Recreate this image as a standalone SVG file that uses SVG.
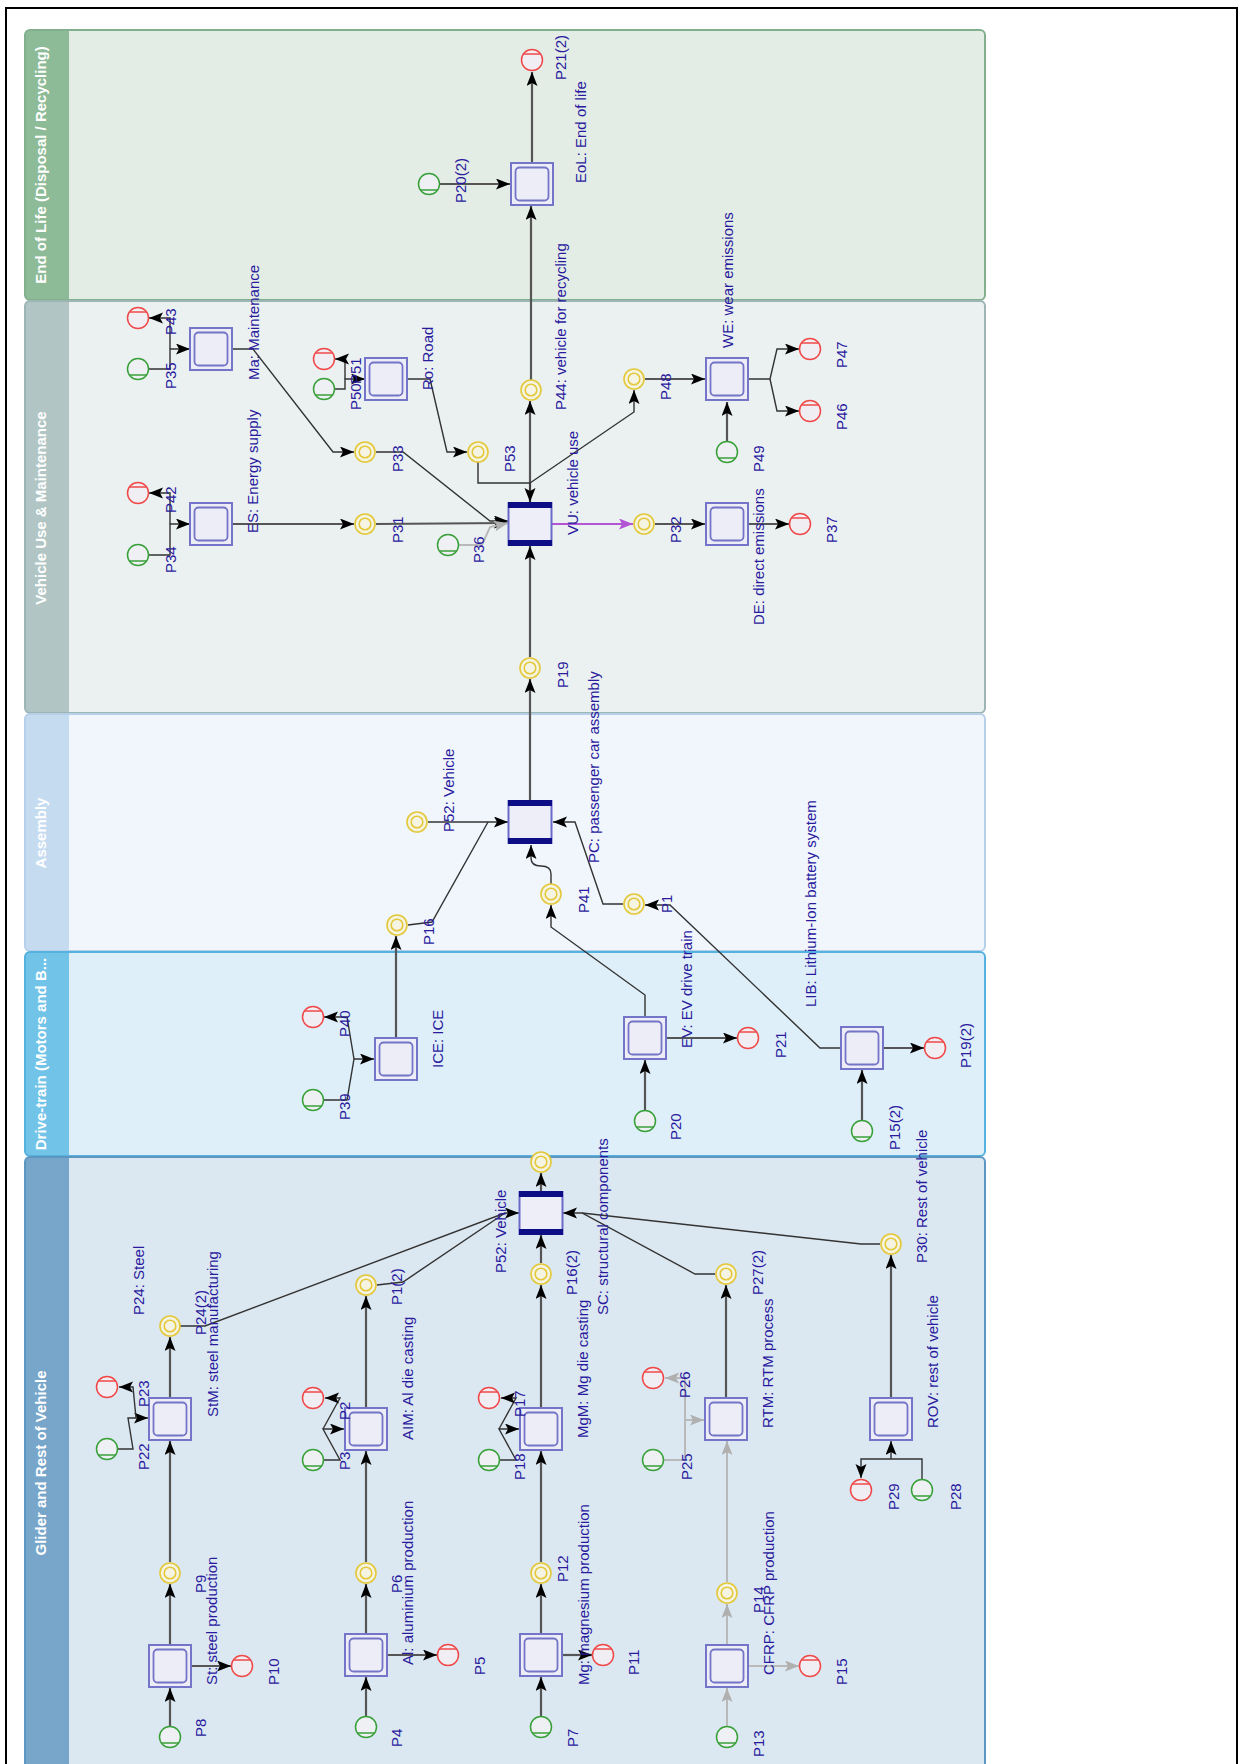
<svg xmlns="http://www.w3.org/2000/svg" width="1242" height="1764" viewBox="0 0 1242 1764">
<style>
.t{font-family:"Liberation Sans",Arial,sans-serif;font-size:15px;fill:#2a1a9e}
.h{font-family:"Liberation Sans",Arial,sans-serif;font-size:15px;font-weight:bold;fill:#ffffff;text-anchor:middle}
.e{fill:none;stroke:#555555;stroke-width:2.2}
.d{fill:none;stroke:#333333;stroke-width:1.4}
.g{fill:none;stroke:#b9b9b9;stroke-width:2}
.m{fill:none;stroke:#b254d4;stroke-width:2}
.ar{marker-end:url(#a)}
.ag{marker-end:url(#ag)}
.am{marker-end:url(#am)}
</style>
<defs>
<marker id="a" markerUnits="userSpaceOnUse" markerWidth="15" markerHeight="12" refX="14" refY="5.5" orient="auto"><path d="M0,0 L14,5.5 L0,11 L3,5.5 z" fill="#000"/></marker>
<marker id="ag" markerUnits="userSpaceOnUse" markerWidth="15" markerHeight="12" refX="14" refY="5.5" orient="auto"><path d="M0,0 L14,5.5 L0,11 L3,5.5 z" fill="#b0b0b0"/></marker>
<marker id="am" markerUnits="userSpaceOnUse" markerWidth="15" markerHeight="12" refX="14" refY="5.5" orient="auto"><path d="M0,0 L14,5.5 L0,11 L3,5.5 z" fill="#b254d4"/></marker>
<g id="proc"><rect x="-21" y="-21" width="42" height="42" fill="#ededf7" stroke="#7474c8" stroke-width="2"/><rect x="-16.5" y="-16.5" width="33" height="33" rx="4" fill="none" stroke="#7474c8" stroke-width="1.8"/></g>
<g id="junc"><rect x="-21.5" y="-21" width="43" height="42" fill="#eeeef8" stroke="#6a6ac8" stroke-width="2"/><rect x="-22" y="-22" width="44" height="6" fill="#0d0d85"/><rect x="-22" y="16" width="44" height="6" fill="#0d0d85"/></g>
<g id="stk"><circle r="10" fill="#f5f3e2" stroke="#e3c83a" stroke-width="1.6"/><circle r="5.8" fill="none" stroke="#e3c83a" stroke-width="1.6"/></g>
<g id="src"><circle r="10.5" fill="#eef0f4" stroke="#38a038" stroke-width="1.5"/><line x1="-8.6" y1="6" x2="8.6" y2="6" stroke="#38a038" stroke-width="1.5"/></g>
<g id="snk"><circle r="10.5" fill="#f0eef2" stroke="#f04848" stroke-width="1.5"/><line x1="-8.6" y1="-6" x2="8.6" y2="-6" stroke="#f04848" stroke-width="1.5"/></g>
</defs>
<rect x="0" y="0" width="1242" height="1764" fill="#ffffff"/>
<rect x="6" y="8" width="1231" height="1800" fill="none" stroke="#000" stroke-width="2"/>

<g id="lanes">
<g id="lane-eol">
<rect x="25" y="30" width="960" height="270" rx="5" fill="#e3ede5"/>
<path d="M30,30 H69 V300 H30 Q25,300 25,295 V35 Q25,30 30,30 Z" fill="#8dbb97"/>
<rect x="25" y="30" width="960" height="270" rx="5" fill="none" stroke="#82b08e" stroke-width="2"/>
<text class="h" x="46" y="165" transform="rotate(-90 46 165)">End of Life (Disposal / Recycling)</text>
</g>
<g id="lane-vu">
<rect x="25" y="301" width="960" height="412" rx="5" fill="#ebf1f1"/>
<path d="M30,301 H69 V713 H30 Q25,713 25,708 V306 Q25,301 30,301 Z" fill="#b1c6c4"/>
<rect x="25" y="301" width="960" height="412" rx="5" fill="none" stroke="#9db5b4" stroke-width="2"/>
<text class="h" x="46" y="508" transform="rotate(-90 46 508)">Vehicle Use &amp; Maintenance</text>
</g>
<g id="lane-asm">
<rect x="25" y="714" width="960" height="237" rx="5" fill="#f0f6fb"/>
<path d="M30,714 H69 V951 H30 Q25,951 25,946 V719 Q25,714 30,714 Z" fill="#c5dbf0"/>
<rect x="25" y="714" width="960" height="237" rx="5" fill="none" stroke="#b6d0ea" stroke-width="2"/>
<text class="h" x="46" y="833" transform="rotate(-90 46 833)">Assembly</text>
</g>
<g id="lane-dt">
<rect x="25" y="952" width="960" height="204" rx="5" fill="#deeff9"/>
<path d="M30,952 H69 V1156 H30 Q25,1156 25,1151 V957 Q25,952 30,952 Z" fill="#72c3e8"/>
<rect x="25" y="952" width="960" height="204" rx="5" fill="none" stroke="#55b1de" stroke-width="2"/>
<text class="h" x="46" y="1054" transform="rotate(-90 46 1054)">Drive-train (Motors and B...</text>
</g>
<g id="lane-gl">
<rect x="25" y="1157" width="960" height="620" rx="5" fill="#dce8f1"/>
<path d="M30,1157 H69 V1777 H30 Q25,1777 25,1772 V1162 Q25,1157 30,1157 Z" fill="#77a6ca"/>
<rect x="25" y="1157" width="960" height="620" rx="5" fill="none" stroke="#5c97c2" stroke-width="2"/>
<text class="h" x="46" y="1463" transform="rotate(-90 46 1463)">Glider and Rest of Vehicle</text>
</g>
</g>

<g id="connectors">
<path class="e ar" d="M440,184 H510"/>
<path class="e ar" d="M532,163 V72"/>
<path class="e ar" d="M531,380 V206"/>
<path class="e ar" d="M530,503 V401"/>
<path class="d ar" d="M149,369 H170 V349 H190"/>
<path class="d ar" d="M170,349 V318 H149"/>
<path class="d ar" d="M149,555 H170 V524 H190"/>
<path class="d ar" d="M170,524 V493 H149"/>
<path class="d ar" d="M232,349 H253 L333,452 H354"/>
<path class="e ar" d="M232,524 H354"/>
<path class="d ar" d="M376,452 H403 L490,521 H508"/>
<path class="e ar" d="M376,524 L508,523"/>
<path class="g ag" d="M459,545 H482 L490,527 L508,523"/>
<path class="d ar" d="M335,389 H345 V379 H365"/>
<path class="d ar" d="M345,379 V359 H335"/>
<path class="d ar" d="M407,379 H430 L447,452 H467"/>
<path class="d ar" d="M478,462 V483 H530 V502"/>
<path class="d ar" d="M530,483 L634,412 V390"/>
<path class="e ar" d="M645,379 H705"/>
<path class="e ar" d="M727,441 V402"/>
<path class="d ar" d="M749,379 H770 L777,349 H799"/>
<path class="d ar" d="M770,379 L777,411 H799"/>
<path class="m am" d="M552,524 H633"/>
<path class="e ar" d="M655,524 H705"/>
<path class="e ar" d="M749,524 H789"/>
<path class="e ar" d="M530,657 V546"/>
<path class="e ar" d="M530,801 V679"/>
<path class="d ar" d="M428,822 H508"/>
<path class="d" d="M408,925 L432,922 L488,822"/>
<path class="d ar" d="M551,884 V874 Q551,866 541,866 Q531,866 531,858 V845"/>
<path class="d ar" d="M623,904 H603 L575,822 H553"/>
<path class="e ar" d="M396,1038 V936"/>
<path class="d ar" d="M324,1100 H347 L354,1059 H374"/>
<path class="d ar" d="M354,1059 L347,1017 H324"/>
<path class="d ar" d="M645,1017 V995 L551,927 V905"/>
<path class="e ar" d="M666,1038 H737"/>
<path class="e ar" d="M645,1110 V1060"/>
<path class="d ar" d="M841,1048 H820 L670,905 H645"/>
<path class="e ar" d="M883,1048 H924"/>
<path class="e ar" d="M862,1120 V1070"/>
<path class="e ar" d="M541,1192 V1173"/>
<path class="e ar" d="M541,1263 V1235"/>
<path class="e ar" d="M541,1408 V1285"/>
<path class="d ar" d="M180,1326 H205 L505,1213 H519"/>
<path class="d" d="M377,1285 L403,1282 L505,1213"/>
<path class="d ar" d="M715,1274 H695 L582,1213 H563"/>
<path class="d" d="M880,1244 H861 L582,1213"/>
<path class="e ar" d="M726,1398 V1285"/>
<path class="e ar" d="M891,1398 V1255"/>
<path class="d ar" d="M922,1479 V1459 H861 V1478"/>
<path class="d ar" d="M891,1459 V1441"/>
<path class="g ag" d="M664,1460 H685 V1378 H665"/>
<path class="g ag" d="M685,1420 H704"/>
<path class="e ar" d="M170,1398 V1337"/>
<path class="d ar" d="M118,1449 H133 L128,1418 H148"/>
<path class="d ar" d="M136,1418 L133,1387 H119"/>
<path class="e ar" d="M366,1408 V1296"/>
<path class="d ar" d="M324,1460 H340 L323,1429 H344"/>
<path class="d ar" d="M323,1429 L340,1398 H325"/>
<path class="d ar" d="M500,1460 H516 L499,1429 H519"/>
<path class="d ar" d="M499,1429 L516,1398 H501"/>
<path class="e ar" d="M170,1645 V1584"/>
<path class="e ar" d="M170,1562 V1441"/>
<path class="e ar" d="M191,1666 H231"/>
<path class="e ar" d="M170,1726 V1688"/>
<path class="e ar" d="M366,1634 V1584"/>
<path class="e ar" d="M366,1562 V1451"/>
<path class="e ar" d="M387,1655 H437"/>
<path class="e ar" d="M366,1716 V1677"/>
<path class="e ar" d="M541,1634 V1584"/>
<path class="e ar" d="M541,1562 V1451"/>
<path class="e ar" d="M562,1655 H592"/>
<path class="e ar" d="M541,1716 V1677"/>
<path class="g ag" d="M727,1645 V1604"/>
<path class="g ag" d="M727,1582 V1441"/>
<path class="g ag" d="M748,1666 H799"/>
<path class="g ag" d="M727,1726 V1688"/>
</g>

<g id="EoL"><use href="#proc" x="532" y="184"/><text class="t" x="586" y="183" transform="rotate(-90 586 183)">EoL: End of life</text></g>
<g id="P20_2"><use href="#src" x="429" y="184"/><text class="t" x="466" y="203" transform="rotate(-90 466 203)">P20(2)</text></g>
<g id="P21_2"><use href="#snk" x="532" y="60"/><text class="t" x="566" y="80" transform="rotate(-90 566 80)">P21(2)</text></g>
<g id="P44"><use href="#stk" x="531" y="390"/><text class="t" x="566" y="410" transform="rotate(-90 566 410)">P44: vehicle for recycling</text></g>

<g id="Ma"><use href="#proc" x="211" y="349"/><text class="t" x="259" y="380" transform="rotate(-90 259 380)">Ma: Maintenance</text></g>
<g id="P43"><use href="#snk" x="138" y="318"/><text class="t" x="176" y="335" transform="rotate(-90 176 335)">P43</text></g>
<g id="P35"><use href="#src" x="138" y="369"/><text class="t" x="176" y="389" transform="rotate(-90 176 389)">P35</text></g>
<g id="ES"><use href="#proc" x="211" y="524"/><text class="t" x="258" y="533" transform="rotate(-90 258 533)">ES: Energy supply</text></g>
<g id="P42"><use href="#snk" x="138" y="493"/><text class="t" x="176" y="513" transform="rotate(-90 176 513)">P42</text></g>
<g id="P34"><use href="#src" x="138" y="555"/><text class="t" x="176" y="573" transform="rotate(-90 176 573)">P34</text></g>
<g id="P33"><use href="#stk" x="365" y="452"/><text class="t" x="403" y="472" transform="rotate(-90 403 472)">P33</text></g>
<g id="P31"><use href="#stk" x="365" y="524"/><text class="t" x="403" y="543" transform="rotate(-90 403 543)">P31</text></g>
<g id="P36"><use href="#src" x="448" y="545"/><text class="t" x="484" y="563" transform="rotate(-90 484 563)">P36</text></g>
<g id="Ro"><use href="#proc" x="386" y="379"/><text class="t" x="433" y="390" transform="rotate(-90 433 390)">Ro: Road</text></g>
<g id="P51"><use href="#snk" x="324" y="359"/><text class="t" x="361" y="384" transform="rotate(-90 361 384)">P51</text></g>
<g id="P50"><use href="#src" x="324" y="389"/><text class="t" x="361" y="410" transform="rotate(-90 361 410)">P50</text></g>
<g id="P53"><use href="#stk" x="478" y="452"/><text class="t" x="515" y="472" transform="rotate(-90 515 472)">P53</text></g>
<g id="VU"><use href="#junc" x="530" y="524"/><text class="t" x="578" y="535" transform="rotate(-90 578 535)">VU: vehicle use</text></g>
<g id="P48"><use href="#stk" x="634" y="379"/><text class="t" x="671" y="400" transform="rotate(-90 671 400)">P48</text></g>
<g id="WE"><use href="#proc" x="727" y="379"/><text class="t" x="733" y="348" transform="rotate(-90 733 348)">WE: wear emissions</text></g>
<g id="P49"><use href="#src" x="727" y="452"/><text class="t" x="764" y="472" transform="rotate(-90 764 472)">P49</text></g>
<g id="P47"><use href="#snk" x="810" y="349"/><text class="t" x="847" y="368" transform="rotate(-90 847 368)">P47</text></g>
<g id="P46"><use href="#snk" x="810" y="411"/><text class="t" x="847" y="430" transform="rotate(-90 847 430)">P46</text></g>
<g id="P32"><use href="#stk" x="644" y="524"/><text class="t" x="681" y="543" transform="rotate(-90 681 543)">P32</text></g>
<g id="DE"><use href="#proc" x="727" y="524"/><text class="t" x="764" y="625" transform="rotate(-90 764 625)">DE: direct emissions</text></g>
<g id="P37"><use href="#snk" x="800" y="524"/><text class="t" x="837" y="543" transform="rotate(-90 837 543)">P37</text></g>
<g id="P19"><use href="#stk" x="530" y="668"/><text class="t" x="568" y="688" transform="rotate(-90 568 688)">P19</text></g>

<g id="PC"><use href="#junc" x="530" y="822"/><text class="t" x="599" y="863" transform="rotate(-90 599 863)">PC: passenger car assembly</text></g>
<g id="P52"><use href="#stk" x="417" y="822"/><text class="t" x="454" y="832" transform="rotate(-90 454 832)">P52: Vehicle</text></g>
<g id="P16"><use href="#stk" x="397" y="925"/><text class="t" x="434" y="945" transform="rotate(-90 434 945)">P16</text></g>
<g id="P41"><use href="#stk" x="551" y="894"/><text class="t" x="589" y="913" transform="rotate(-90 589 913)">P41</text></g>
<g id="P1"><use href="#stk" x="634" y="904"/><text class="t" x="672" y="913" transform="rotate(-90 672 913)">P1</text></g>

<g id="ICE"><use href="#proc" x="396" y="1059"/><text class="t" x="443" y="1068" transform="rotate(-90 443 1068)">ICE: ICE</text></g>
<g id="P40"><use href="#snk" x="313" y="1017"/><text class="t" x="350" y="1037" transform="rotate(-90 350 1037)">P40</text></g>
<g id="P39"><use href="#src" x="313" y="1100"/><text class="t" x="350" y="1120" transform="rotate(-90 350 1120)">P39</text></g>
<g id="EV"><use href="#proc" x="645" y="1038"/><text class="t" x="692" y="1048" transform="rotate(-90 692 1048)">EV: EV drive train</text></g>
<g id="P21"><use href="#snk" x="748" y="1038"/><text class="t" x="786" y="1058" transform="rotate(-90 786 1058)">P21</text></g>
<g id="P20"><use href="#src" x="645" y="1121"/><text class="t" x="681" y="1140" transform="rotate(-90 681 1140)">P20</text></g>
<g id="LIB"><use href="#proc" x="862" y="1048"/><text class="t" x="816" y="1007" transform="rotate(-90 816 1007)">LIB: Lithium-Ion battery system</text></g>
<g id="P19_2"><use href="#snk" x="935" y="1048"/><text class="t" x="971" y="1068" transform="rotate(-90 971 1068)">P19(2)</text></g>
<g id="P15_2"><use href="#src" x="862" y="1131"/><text class="t" x="900" y="1150" transform="rotate(-90 900 1150)">P15(2)</text></g>

<g id="SC"><use href="#junc" x="541" y="1213"/><text class="t" x="608" y="1315" transform="rotate(-90 608 1315)">SC: structural components</text></g>
<g id="SC_out"><use href="#stk" x="541" y="1162"/></g>
<g id="P52_2"><text class="t" x="506" y="1273" transform="rotate(-90 506 1273)">P52: Vehicle</text></g>
<g id="P16_2"><use href="#stk" x="541" y="1274"/><text class="t" x="577" y="1295" transform="rotate(-90 577 1295)">P16(2)</text></g>
<g id="P24_2"><use href="#stk" x="170" y="1326"/><text class="t" x="144" y="1315" transform="rotate(-90 144 1315)">P24: Steel</text><text class="t" x="206" y="1335" transform="rotate(-90 206 1335)">P24(2)</text></g>
<g id="P1_2"><use href="#stk" x="366" y="1285"/><text class="t" x="402" y="1305" transform="rotate(-90 402 1305)">P1(2)</text></g>
<g id="P27_2"><use href="#stk" x="726" y="1274"/><text class="t" x="763" y="1295" transform="rotate(-90 763 1295)">P27(2)</text></g>
<g id="P30"><use href="#stk" x="891" y="1244"/><text class="t" x="927" y="1263" transform="rotate(-90 927 1263)">P30: Rest of vehicle</text></g>
<g id="StM"><use href="#proc" x="170" y="1419"/><text class="t" x="218" y="1417" transform="rotate(-90 218 1417)">StM: steel manufacturing</text></g>
<g id="P23"><use href="#snk" x="107" y="1387"/><text class="t" x="149" y="1407" transform="rotate(-90 149 1407)">P23</text></g>
<g id="P22"><use href="#src" x="107" y="1449"/><text class="t" x="149" y="1470" transform="rotate(-90 149 1470)">P22</text></g>
<g id="AIM"><use href="#proc" x="366" y="1429"/><text class="t" x="413" y="1440" transform="rotate(-90 413 1440)">AIM: Al die casting</text></g>
<g id="P2"><use href="#snk" x="313" y="1398"/><text class="t" x="350" y="1420" transform="rotate(-90 350 1420)">P2</text></g>
<g id="P3"><use href="#src" x="313" y="1460"/><text class="t" x="350" y="1470" transform="rotate(-90 350 1470)">P3</text></g>
<g id="MgM"><use href="#proc" x="541" y="1429"/><text class="t" x="588" y="1438" transform="rotate(-90 588 1438)">MgM: Mg die casting</text></g>
<g id="P17"><use href="#snk" x="489" y="1398"/><text class="t" x="525" y="1417" transform="rotate(-90 525 1417)">P17</text></g>
<g id="P18"><use href="#src" x="489" y="1460"/><text class="t" x="525" y="1480" transform="rotate(-90 525 1480)">P18</text></g>
<g id="RTM"><use href="#proc" x="726" y="1419"/><text class="t" x="773" y="1428" transform="rotate(-90 773 1428)">RTM: RTM process</text></g>
<g id="P26"><use href="#snk" x="653" y="1378"/><text class="t" x="690" y="1398" transform="rotate(-90 690 1398)">P26</text></g>
<g id="P25"><use href="#src" x="653" y="1460"/><text class="t" x="692" y="1480" transform="rotate(-90 692 1480)">P25</text></g>
<g id="ROV"><use href="#proc" x="891" y="1419"/><text class="t" x="938" y="1428" transform="rotate(-90 938 1428)">ROV: rest of vehicle</text></g>
<g id="P29"><use href="#snk" x="861" y="1490"/><text class="t" x="899" y="1510" transform="rotate(-90 899 1510)">P29</text></g>
<g id="P28"><use href="#src" x="922" y="1490"/><text class="t" x="961" y="1510" transform="rotate(-90 961 1510)">P28</text></g>
<g id="St"><use href="#proc" x="170" y="1666"/><text class="t" x="217" y="1685" transform="rotate(-90 217 1685)">St: steel production</text></g>
<g id="P9"><use href="#stk" x="170" y="1573"/><text class="t" x="206" y="1593" transform="rotate(-90 206 1593)">P9</text></g>
<g id="P10"><use href="#snk" x="242" y="1666"/><text class="t" x="279" y="1685" transform="rotate(-90 279 1685)">P10</text></g>
<g id="P8"><use href="#src" x="170" y="1737"/><text class="t" x="206" y="1737" transform="rotate(-90 206 1737)">P8</text></g>
<g id="Al"><use href="#proc" x="366" y="1655"/><text class="t" x="413" y="1665" transform="rotate(-90 413 1665)">Al: aluminium production</text></g>
<g id="P6"><use href="#stk" x="366" y="1573"/><text class="t" x="402" y="1593" transform="rotate(-90 402 1593)">P6</text></g>
<g id="P5"><use href="#snk" x="448" y="1655"/><text class="t" x="485" y="1675" transform="rotate(-90 485 1675)">P5</text></g>
<g id="P4"><use href="#src" x="366" y="1727"/><text class="t" x="402" y="1747" transform="rotate(-90 402 1747)">P4</text></g>
<g id="Mg"><use href="#proc" x="541" y="1655"/><text class="t" x="589" y="1685" transform="rotate(-90 589 1685)">Mg: magnesium production</text></g>
<g id="P12"><use href="#stk" x="541" y="1573"/><text class="t" x="568" y="1582" transform="rotate(-90 568 1582)">P12</text></g>
<g id="P11"><use href="#snk" x="603" y="1655"/><text class="t" x="639" y="1675" transform="rotate(-90 639 1675)">P11</text></g>
<g id="P7"><use href="#src" x="541" y="1727"/><text class="t" x="578" y="1747" transform="rotate(-90 578 1747)">P7</text></g>
<g id="CFRP"><use href="#proc" x="727" y="1666"/><text class="t" x="774" y="1675" transform="rotate(-90 774 1675)">CFRP: CFRP production</text></g>
<g id="P14"><use href="#stk" x="727" y="1593"/><text class="t" x="764" y="1613" transform="rotate(-90 764 1613)">P14</text></g>
<g id="P15"><use href="#snk" x="810" y="1666"/><text class="t" x="847" y="1685" transform="rotate(-90 847 1685)">P15</text></g>
<g id="P13"><use href="#src" x="727" y="1737"/><text class="t" x="764" y="1757" transform="rotate(-90 764 1757)">P13</text></g>
</svg>
